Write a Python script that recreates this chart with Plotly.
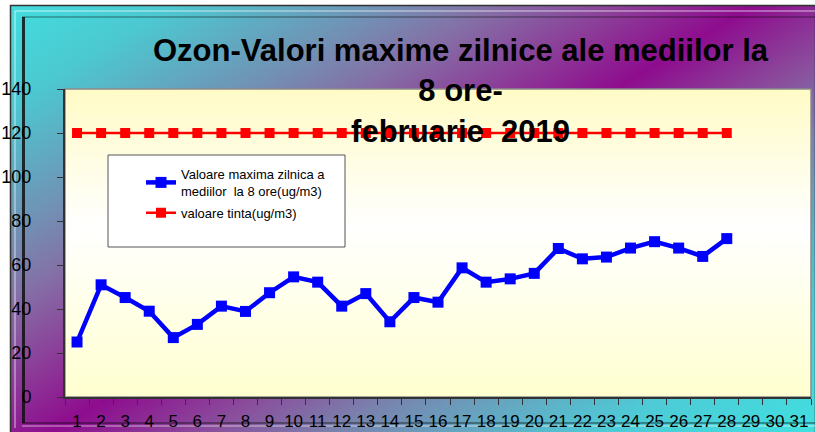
import base64
import plotly.graph_objects as go

# ---------------- data ----------------
days = [str(d) for d in range(1, 32)]
ozone_days = days[:28]
ozone_max = [25.0, 51.0, 45.2, 39.0, 27.0, 33.0, 41.3, 38.9, 47.4, 54.6, 52.2, 41.3,
             47.0, 34.2, 45.2, 43.1, 58.7, 52.2, 53.7, 56.2, 67.5, 62.8, 63.6, 67.7,
             70.6, 67.7, 63.9, 72.0]
target = [120, 120, 120, 120, 120, 120, 120, 120, 120, 120, 120, 120, 120, 120,
          120, 120, 120, 120, 120, 120, 120, 120, 120, 120, 120, 120, 120, 120]
y_ticks = [0, 20, 40, 60, 80, 100, 120, 140]

title_text = ("Ozon-Valori maxime zilnice ale mediilor la<br>8 ore-<br>"
              "februarie\u00a0 2019")
name_ozone = "Valoare maxima zilnica a<br>mediilor\u00a0 la 8 ore(ug/m3)"
name_target = "valoare tinta(ug/m3)"

# ---------------- geometry ----------------
W, H = 815, 432
L, R, T, B = 65, 4, 89, 35
PW, PH = W - L - R, H - T - B


def svg_uri(svg):
    return "data:image/svg+xml;base64," + base64.b64encode(svg.encode()).decode()


bg_svg = f"""<svg xmlns='http://www.w3.org/2000/svg' width='{W}' height='{H}' viewBox='0 0 {W} {H}' preserveAspectRatio='none'>
<defs>
<linearGradient id='g' gradientUnits='userSpaceOnUse' x1='0' y1='0' x2='412' y2='677'>
<stop offset='0' stop-color='#40e0e0'/>
<stop offset='0.12' stop-color='#4cc8d0'/>
<stop offset='0.26' stop-color='#7290b4'/>
<stop offset='0.33' stop-color='#8470a6'/>
<stop offset='0.42' stop-color='#8c3c98'/>
<stop offset='0.50' stop-color='#8e0c8e'/>
<stop offset='0.60' stop-color='#8a4e9c'/>
<stop offset='0.68' stop-color='#7a80ac'/>
<stop offset='0.76' stop-color='#66a4bf'/>
<stop offset='0.86' stop-color='#4ecad6'/>
<stop offset='1' stop-color='#40e0e0'/>
</linearGradient>
</defs>
<rect x='0' y='0' width='{W}' height='{H}' fill='white'/>
<rect x='10.5' y='5.5' width='{W-10}' height='{H}' fill='url(#g)' stroke='#333' stroke-width='1.5'/>
<line x1='15' y1='11' x2='{W}' y2='11' stroke='white' stroke-opacity='0.35' stroke-width='2'/>
<line x1='15' y1='11' x2='15' y2='428' stroke='white' stroke-opacity='0.35' stroke-width='2'/>
<line x1='22' y1='17' x2='{W}' y2='17' stroke='black' stroke-opacity='0.25' stroke-width='2'/>
<line x1='23.5' y1='17' x2='23.5' y2='423' stroke='#111' stroke-opacity='0.85' stroke-width='3'/>
<line x1='22' y1='423' x2='{W}' y2='423' stroke='black' stroke-opacity='0.35' stroke-width='2'/>
<line x1='22' y1='426' x2='{W}' y2='426' stroke='white' stroke-opacity='0.3' stroke-width='2'/>
</svg>"""

plot_svg = """<svg xmlns='http://www.w3.org/2000/svg' width='100' height='100' viewBox='0 0 100 100' preserveAspectRatio='none'>
<defs>
<linearGradient id='p' x1='0' y1='0' x2='0' y2='1'>
<stop offset='0' stop-color='#fffbc6'/>
<stop offset='0.45' stop-color='#ffffff'/>
<stop offset='1' stop-color='#ffffd0'/>
</linearGradient>
</defs>
<rect x='0' y='0' width='100' height='100' fill='url(#p)'/>
</svg>"""

fig = go.Figure()
fig.add_trace(go.Scatter(
    x=ozone_days, y=ozone_max, name=name_ozone, mode="lines+markers",
    line=dict(color="#0000ff", width=4.5),
    marker=dict(symbol="square", size=11, color="#0000ff"),
    legendgroup="a"))
fig.add_trace(go.Scatter(
    x=ozone_days, y=target, name=name_target, mode="lines+markers",
    line=dict(color="#ff0000", width=2.5),
    marker=dict(symbol="square", size=10, color="#ff0000"),
    legendgroup="b"))

fig.update_layout(
    width=W, height=H,
    margin=dict(l=L, r=R, t=T, b=B, pad=0, autoexpand=False),
    paper_bgcolor="white", plot_bgcolor="rgba(0,0,0,0)",
    font=dict(family="Liberation Sans, Arial, sans-serif", color="black"),
    showlegend=True,
    legend=dict(x=(141 - L) / PW, y=(H - B - 159) / PH, xanchor="left", yanchor="top",
                bgcolor="rgba(0,0,0,0)", borderwidth=0, tracegroupgap=2,
                font=dict(size=13, family="Liberation Sans, Arial, sans-serif")),
    images=[
        dict(source=svg_uri(bg_svg), xref="paper", yref="paper",
             x=-L / PW, y=1 + T / PH, sizex=W / PW, sizey=H / PH,
             xanchor="left", yanchor="top", sizing="stretch", layer="below"),
        dict(source=svg_uri(plot_svg), xref="paper", yref="paper",
             x=0, y=1, sizex=1, sizey=1,
             xanchor="left", yanchor="top", sizing="stretch", layer="below"),
    ],
    shapes=[
        dict(type="rect", xref="paper", yref="paper", x0=0, x1=1, y0=0, y1=1,
             line=dict(color="#8a8a8a", width=1.5), fillcolor="rgba(0,0,0,0)", layer="below"),
        dict(type="rect", xref="paper", yref="paper",
             x0=(108 - L) / PW, x1=(345 - L) / PW,
             y0=(H - B - 247) / PH, y1=(H - B - 155) / PH,
             line=dict(color="#555", width=1), fillcolor="white", layer="below"),
    ],
    annotations=[
        dict(text="<b>" + title_text + "</b>", xref="paper", yref="paper",
             x=(461 - L) / PW, y=(H - B - 91) / PH, xanchor="center", yanchor="middle",
             showarrow=False, align="center",
             font=dict(size=31, family="Liberation Sans, Arial, sans-serif", color="black")),
    ],
)

fig.update_xaxes(
    type="category", categoryorder="array", categoryarray=days,
    range=[-0.5, 30.5], tickvals=days, ticktext=days, tickson="boundaries",
    ticks="outside", ticklen=6, tickcolor="#333", tickwidth=1, tickangle=0,
    showline=True, linecolor="#333", linewidth=2, showgrid=False, zeroline=False,
    tickfont=dict(size=17), ticklabelstandoff=8, automargin=False)
fig.update_yaxes(
    range=[0, 140], tickvals=y_ticks, ticks="outside", ticklen=6, tickcolor="#333",
    showline=True, linecolor="#333", linewidth=2, showgrid=False, zeroline=False,
    tickfont=dict(size=18), ticklabelstandoff=22, automargin=False)

fig.write_html(
    "out.html",
    config={"displayModeBar": False},
    post_script="document.body.style.margin='0';document.body.style.padding='0';"
                "document.body.style.overflow='hidden';")
